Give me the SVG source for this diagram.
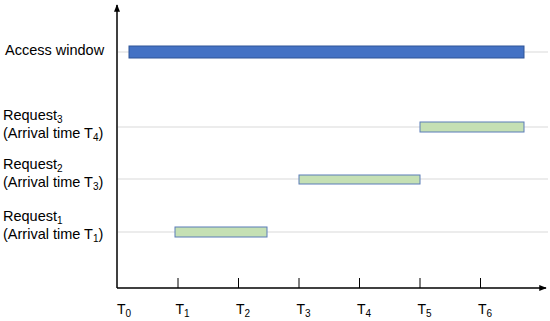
<svg xmlns="http://www.w3.org/2000/svg" width="550" height="321" viewBox="0 0 550 321">
<style>
text{font-family:"Liberation Sans",Arial,sans-serif;font-size:14.5px;fill:#000}
.sub{font-size:10px}
.grid{stroke:#d9d9d9;stroke-width:1.2;fill:none}
.axis{stroke:#000;stroke-width:1.5;fill:none}
.tick{stroke:#000;stroke-width:1;fill:none}
.blue{fill:#4472c4;stroke:#2f5597;stroke-width:1}
.green{fill:#c5e0b4;stroke:#5b7db8;stroke-width:1}
.tl{font-size:14px}
</style>
<defs>
<marker id="arr" viewBox="0 0 10 10" refX="9" refY="5" markerWidth="5" markerHeight="5" orient="auto">
<path d="M0,1 L10,5 L0,9 z" fill="#000"/>
</marker>
</defs>
<g id="gridlines">
<line class="grid" x1="118" y1="52" x2="548" y2="52"/>
<line class="grid" x1="118" y1="127" x2="548" y2="127"/>
<line class="grid" x1="118" y1="179" x2="548" y2="179"/>
<line class="grid" x1="118" y1="232" x2="548" y2="232"/>
</g>
<g id="connectors">
<line class="axis" x1="117" y1="288" x2="117" y2="5" marker-end="url(#arr)"/>
<line class="axis" x1="117" y1="288" x2="546" y2="288" marker-end="url(#arr)"/>
<line class="tick" x1="178" y1="278" x2="178" y2="288"/>
<line class="tick" x1="238.5" y1="278" x2="238.5" y2="288"/>
<line class="tick" x1="299" y1="278" x2="299" y2="288"/>
<line class="tick" x1="359.5" y1="278" x2="359.5" y2="288"/>
<line class="tick" x1="420" y1="278" x2="420" y2="288"/>
<line class="tick" x1="480.5" y1="278" x2="480.5" y2="288"/>
</g>
<g id="access-window">
<rect class="blue" x="129" y="46" width="395" height="12"/>
<text x="5" y="55">Access window</text>
</g>
<g id="request3">
<rect class="green" x="420" y="122" width="104" height="10"/>
<text x="3" y="120">Request<tspan class="sub" dy="2.5">3</tspan></text>
<text x="3" y="138">(Arrival time T<tspan class="sub" dy="2.5">4</tspan><tspan dy="-2.5">)</tspan></text>
</g>
<g id="request2">
<rect class="green" x="299" y="175" width="121" height="9"/>
<text x="3" y="169">Request<tspan class="sub" dy="2.5">2</tspan></text>
<text x="3" y="187">(Arrival time T<tspan class="sub" dy="2.5">3</tspan><tspan dy="-2.5">)</tspan></text>
</g>
<g id="request1">
<rect class="green" x="175" y="227" width="92" height="10"/>
<text x="3" y="221">Request<tspan class="sub" dy="2.5">1</tspan></text>
<text x="3" y="239">(Arrival time T<tspan class="sub" dy="2.5">1</tspan><tspan dy="-2.5">)</tspan></text>
</g>
<g id="tick-labels">
<text class="tl" x="117" y="314">T<tspan class="sub" dy="3">0</tspan></text>
<text class="tl" x="175.5" y="314">T<tspan class="sub" dy="3">1</tspan></text>
<text class="tl" x="236" y="314">T<tspan class="sub" dy="3">2</tspan></text>
<text class="tl" x="296.5" y="314">T<tspan class="sub" dy="3">3</tspan></text>
<text class="tl" x="357" y="314">T<tspan class="sub" dy="3">4</tspan></text>
<text class="tl" x="417.5" y="314">T<tspan class="sub" dy="3">5</tspan></text>
<text class="tl" x="478" y="314">T<tspan class="sub" dy="3">6</tspan></text>
</g>
</svg>
